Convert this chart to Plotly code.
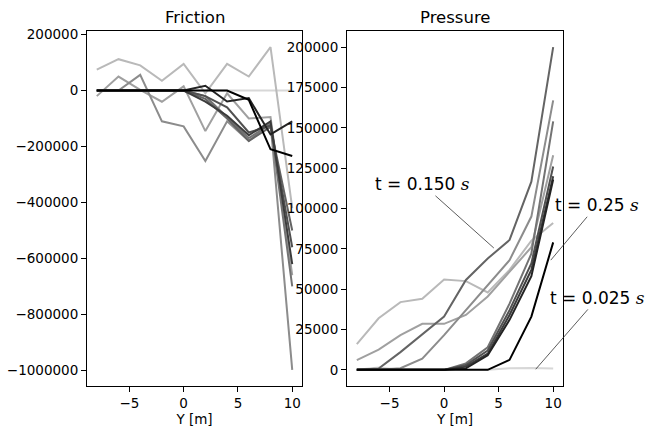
import plotly.graph_objects as go

# ---------------- data ----------------
y_m = [-8, -6, -4, -2, 0, 2, 4, 6, 8, 10]
times = ["0.025", "0.050", "0.075", "0.100", "0.125", "0.150", "0.175", "0.200", "0.225", "0.250"]
gray_levels = [215, 185, 160, 140, 115, 100, 80, 60, 35, 0]

fric_t1 = [0, 0, 0, 0, 0, 0, 0, 0, 0, 0]
fric_t2 = [75000, 112000, 90000, 35000, 95000, -10000, 95000, 50000, 155000, -420000]
fric_t3 = [-20000, 50000, 2500, -40000, 15000, -145000, -10000, -100000, -95000, -660000]
fric_t4 = [0, 0, 56000, -110000, -128000, -252000, -110000, -180000, -115000, -998000]
fric_t5 = [0, 0, 0, 0, 0, -20000, -95000, -170000, -120000, -700000]
fric_t6 = [0, 0, 0, 0, 0, -30000, -100000, -180000, -130000, -500000]
fric_t7 = [0, 0, 0, 0, 0, -20000, -60000, -150000, -125000, -560000]
fric_t8 = [0, 0, 0, 0, 0, -40000, -90000, -160000, -110000, -620000]
fric_t9 = [0, 0, 0, 0, 0, 17000, -39000, -27000, -157000, -110000]
fric_t10 = [0, 0, 0, 0, 0, 0, 0, -33000, -210000, -234000]

pres_t1 = [0, 1500, 0, 0, 0, 0, 0, 1000, 1200, 800]
pres_t2 = [16000, 32000, 42000, 44000, 56000, 55000, 48000, 62000, 80000, 91000]
pres_t3 = [6000, 12500, 21500, 28500, 28500, 34000, 45500, 61000, 76000, 133000]
pres_t4 = [0, 0, 1000, 7000, 21500, 37000, 52000, 68000, 95000, 167000]
pres_t5 = [0, 0, 0, 0, 0, 4000, 14000, 41000, 72000, 154000]
pres_t6 = [0, 800, 11000, 22000, 33000, 55700, 69000, 80500, 116600, 200000]
pres_t7 = [0, 0, 0, 0, 0, 3000, 12000, 37000, 66000, 126000]
pres_t8 = [0, 0, 0, 0, 0, 2000, 10000, 34000, 62000, 120000]
pres_t9 = [0, 0, 0, 0, 0, 1000, 9000, 31000, 58000, 118000]
pres_t10 = [0, 0, 0, 0, 0, 0, 0, 6200, 33000, 79000]

friction = [fric_t1, fric_t2, fric_t3, fric_t4, fric_t5, fric_t6, fric_t7, fric_t8, fric_t9, fric_t10]
pressure = [pres_t1, pres_t2, pres_t3, pres_t4, pres_t5, pres_t6, pres_t7, pres_t8, pres_t9, pres_t10]

fric_ticks = [200000, 0, -200000, -400000, -600000, -800000, -1000000]
pres_ticks = [0, 25000, 50000, 75000, 100000, 125000, 150000, 175000, 200000]
x_ticks = [-5, 0, 5, 10]

FONT = "DejaVu Sans"

fig = go.Figure()
for i, t in enumerate(times):
    g = gray_levels[i]
    col = f"rgb({g},{g},{g})"
    fig.add_trace(go.Scatter(x=y_m, y=friction[i], mode="lines", line=dict(color=col, width=2),
                             name=f"t={t}", showlegend=False, xaxis="x", yaxis="y"))
    fig.add_trace(go.Scatter(x=y_m, y=pressure[i], mode="lines", line=dict(color=col, width=2),
                             name=f"t={t}", showlegend=False, xaxis="x2", yaxis="y2"))


def padded(vals_list, frac=0.05):
    lo = min(min(v) for v in vals_list)
    hi = max(max(v) for v in vals_list)
    s = hi - lo
    return [lo - frac * s, hi + frac * s]


xr = padded([y_m])
axis_common = dict(showline=True, linecolor="black", linewidth=1, mirror=True,
                   ticks="outside", ticklen=5, tickcolor="black", tickwidth=1,
                   showgrid=False, zeroline=False, automargin=False,
                   tickfont=dict(family=FONT, size=13.5, color="black"))

fig.update_layout(
    width=649, height=430,
    margin=dict(l=0, r=0, t=0, b=0, autoexpand=False),
    plot_bgcolor="white", paper_bgcolor="white",
    font=dict(family=FONT, color="black"),
    xaxis=dict(domain=[87 / 649, 302 / 649], range=xr, tickvals=x_ticks, anchor="y",
               title=dict(text="Y [m]", font=dict(family=FONT, size=13.5), standoff=4), **axis_common),
    yaxis=dict(domain=[1 - 386 / 430, 1 - 31 / 430], range=padded(friction), tickvals=fric_ticks,
               tickformat="d", anchor="x", **axis_common),
    xaxis2=dict(domain=[347 / 649, 563 / 649], range=xr, tickvals=x_ticks, anchor="y2",
                title=dict(text="Y [m]", font=dict(family=FONT, size=13.5), standoff=4), **axis_common),
    yaxis2=dict(domain=[1 - 386 / 430, 1 - 31 / 430], range=padded(pressure), tickvals=pres_ticks,
                tickformat="d", anchor="x2", **axis_common),
)

# subplot titles
fig.add_annotation(text="Friction", x=(87 + 302) / 2 / 649, y=1 - 17 / 430, xref="paper", yref="paper",
                   xanchor="center", yanchor="middle",
                   showarrow=False, font=dict(family=FONT, size=16.5, color="black"))
fig.add_annotation(text="Pressure", x=(347 + 563) / 2 / 649, y=1 - 17 / 430, xref="paper", yref="paper",
                   xanchor="center", yanchor="middle",
                   showarrow=False, font=dict(family=FONT, size=16.5, color="black"))

# time labels
labels = [
    ("t = 0.150 <span style='font-family:DejaVu Serif'><i>s</i></span>", 4.56, 75500, -1.97, 115000),
    ("t = 0.25 <span style='font-family:DejaVu Serif'><i>s</i></span>", 9.78, 68000, 14.0, 102000),
    ("t = 0.025 <span style='font-family:DejaVu Serif'><i>s</i></span>", 8.4, 400, 14.1, 44600),
]
for txt, xt, yt, xa, ya in labels:
    fig.add_annotation(text=txt, x=xt, y=yt, ax=xa, ay=ya, xref="x2", yref="y2", axref="x2", ayref="y2",
                       showarrow=True, arrowhead=0, arrowwidth=0.8, arrowcolor="#333",
                       font=dict(family=FONT, size=17, color="black"))

fig.write_html("out.html", config={"displayModeBar": False},
               post_script="document.body.style.margin='0';document.body.style.overflow='hidden';")
